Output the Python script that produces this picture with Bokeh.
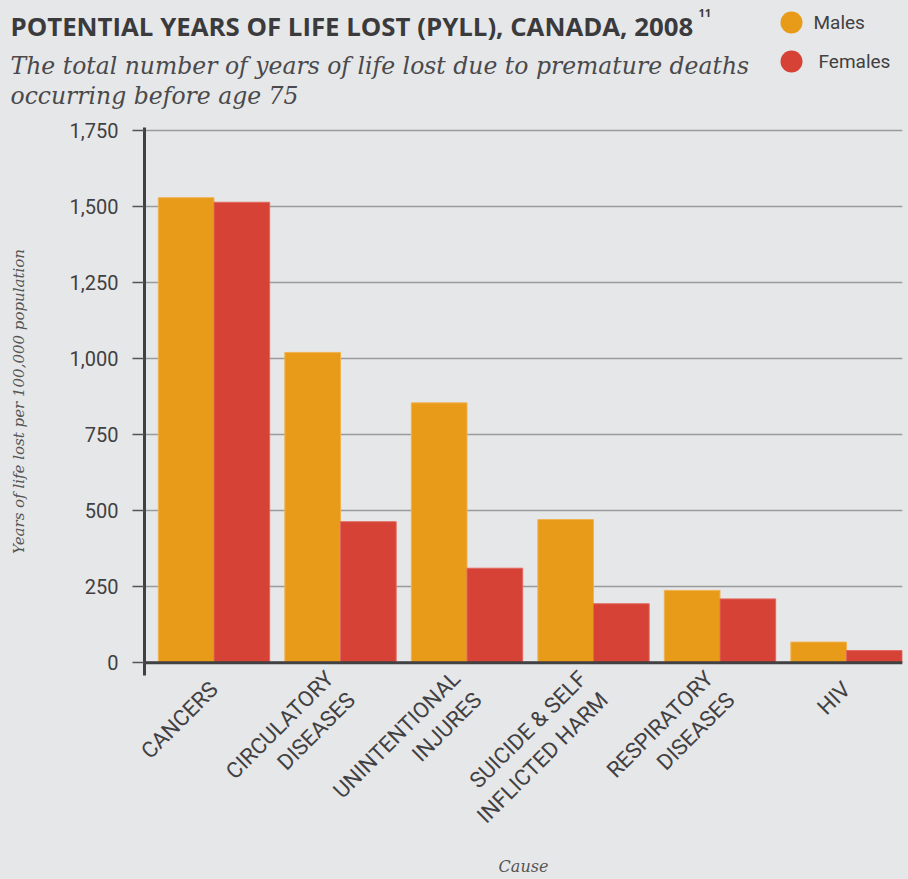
import math
from bokeh.plotting import figure
from bokeh.models import (Range1d, FixedTicker, NumeralTickFormatter, Span,
                          ColumnDataSource)
from bokeh.transform import dodge
from bokeh.layouts import column
from bokeh.core.properties import value
from bokeh.embed import file_html
from bokeh.resources import INLINE

# ---------------- data ----------------
categories = ["CANCERS", "CIRCULATORY\nDISEASES", "UNINTENTIONAL\nINJURES",
              "SUICIDE & SELF\nINFLICTED HARM", "RESPIRATORY\nDISEASES", "HIV"]
males = [1530, 1021, 855, 471, 238, 68]
females = [1515, 464, 311, 194, 210, 40]
series_names = ["Males", "Females"]
y_ticks = [0, 250, 500, 750, 1000, 1250, 1500, 1750]

title = "POTENTIAL YEARS OF LIFE LOST (PYLL), CANADA, 2008"
title_sup = "11"
subtitle = ["The total number of years of life lost due to premature deaths",
            "occurring before age 75"]
y_label = "Years of life lost per 100,000 population"
x_label = "Cause"

# ---------------- style ----------------
BG = "#e6e7e8"
ORANGE = "#e89b19"
RED = "#d64236"
DARK = "#414042"
GRID = "#9a9a9c"
SANS = "Roboto"
SERIF = "DejaVu Serif"
W, H = 908, 879
HH = 112   # header height


def no_align(fig):
    try:
        fig.frame_align = False
    except Exception:
        pass


# ---------------- header ----------------
hdr = figure(width=W, height=HH, x_range=Range1d(0, W), y_range=Range1d(HH, 0),
             output_backend="svg", toolbar_location=None, min_border=0,
             x_axis_location=None, y_axis_location=None)
hdr.grid.visible = False
hdr.outline_line_color = None
hdr.background_fill_color = BG
hdr.border_fill_color = BG
no_align(hdr)

hdr.text(x=[10], y=[25], text=[title], text_baseline="alphabetic",
         text_font=value("Open Sans"), text_font_style="bold",
         text_font_size="25.8px", text_color="#3b3a3c")
hdr.text(x=[698], y=[12], text=[title_sup], text_baseline="alphabetic",
         text_font=value("Open Sans"), text_font_style="bold",
         text_font_size="11px", text_color="#3b3a3c")
hdr.text(x=[10, 10], y=[65, 95], text=subtitle, text_baseline="alphabetic",
         text_font=value(SERIF), text_font_style="italic",
         text_font_size="23.5px", text_color="#4a494b")
hdr.scatter(x=[791, 791], y=[22, 61], size=22, marker="circle",
            fill_color=[ORANGE, RED], line_color=None)
hdr.text(x=[813, 818], y=[22, 61], text=series_names, text_baseline="middle",
         text_font=value(SANS), text_font_size="19px", text_color=DARK)

# ---------------- main chart ----------------
MH = H - HH
p = figure(width=W, height=MH,
           x_range=Range1d(-0.5494, 5.4427), y_range=Range1d(-42, 1761),
           output_backend="svg", toolbar_location=None,
           min_border_left=144, min_border_right=6,
           min_border_top=127 - HH, min_border_bottom=H - 675)
p.background_fill_color = BG
p.border_fill_color = BG
p.outline_line_color = None
no_align(p)

src = ColumnDataSource(dict(x=list(range(len(categories))), males=males, females=females))
p.vbar(x=dodge("x", -0.22, range=p.x_range), top="males", bottom=0, width=0.44,
       source=src, fill_color=ORANGE, line_color="#f1b24f", line_width=1)
p.vbar(x=dodge("x", 0.22, range=p.x_range), top="females", bottom=0, width=0.44,
       source=src, fill_color=RED, line_color="#e2675b", line_width=1)

p.add_layout(Span(location=0, dimension="width", line_color=DARK, line_width=3))

p.xgrid.grid_line_color = None
p.ygrid.grid_line_color = GRID
p.ygrid.grid_line_width = 1.5

# y axis
p.yaxis.ticker = FixedTicker(ticks=y_ticks)
p.yaxis.formatter = NumeralTickFormatter(format="0,0")
p.yaxis.axis_line_color = DARK
p.yaxis.axis_line_width = 3
p.yaxis.major_tick_line_color = "#555555"
p.yaxis.major_tick_line_width = 1.5
p.yaxis.major_tick_out = 12
p.yaxis.major_tick_in = 0
p.yaxis.minor_tick_line_color = None
p.yaxis.major_label_standoff = 14
p.yaxis.major_label_text_font = SANS
p.yaxis.major_label_text_font_size = "20px"
p.yaxis.major_label_text_color = DARK
p.yaxis.axis_label = y_label
p.yaxis.axis_label_text_font = SERIF
p.yaxis.axis_label_text_font_style = "italic"
p.yaxis.axis_label_text_font_size = "15px"
p.yaxis.axis_label_text_color = "#555555"
p.yaxis.axis_label_standoff = 39

# x axis
p.xaxis.ticker = FixedTicker(ticks=list(range(len(categories))))
p.xaxis.major_label_overrides = {i: c for i, c in enumerate(categories)}
p.xaxis.major_label_orientation = math.pi / 4
p.xaxis.axis_line_color = None
p.xaxis.major_tick_line_color = None
p.xaxis.minor_tick_line_color = None
p.xaxis.major_label_standoff = 4
p.xaxis.major_label_text_font = SANS
p.xaxis.major_label_text_font_size = "22px"
p.xaxis.major_label_text_color = DARK
p.xaxis.axis_label = x_label
p.xaxis.axis_label_text_font = SERIF
p.xaxis.axis_label_text_font_style = "italic"
p.xaxis.axis_label_text_font_size = "16px"
p.xaxis.axis_label_text_color = "#555555"
p.xaxis.axis_label_standoff = 6

layout = column(hdr, p, spacing=0, styles={"background-color": BG})
open("out.html", "w").write(file_html(layout, INLINE))
